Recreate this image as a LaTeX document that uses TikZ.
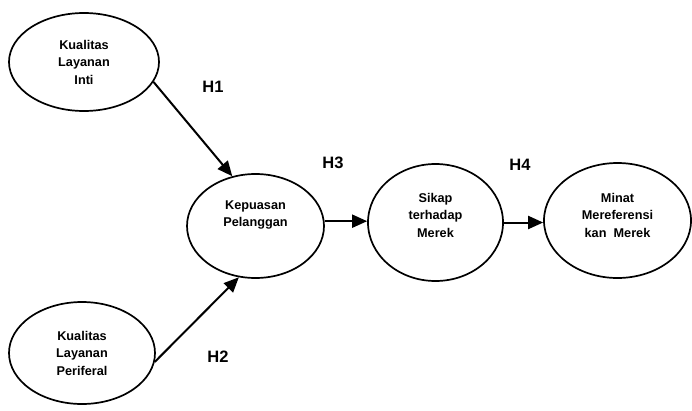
\documentclass[tikz,border=0pt]{standalone}
\usepackage{fontspec}
\setmainfont{Liberation Sans}
\usetikzlibrary{shapes.geometric,arrows.meta}
\begin{document}
\begin{tikzpicture}[x=1pt,y=-1pt,
  var/.style={draw, ellipse, line width=1.7pt, inner sep=0pt, fill=white},
  vtext/.style={align=center, font=\fontsize{12.7}{17.5}\selectfont\bfseries, inner sep=0pt},
  hlab/.style={font=\fontsize{16.5}{18}\selectfont\bfseries, inner sep=0pt},
  arr/.style={line width=2pt, -{Triangle[length=15pt,width=13pt]}, shorten >=0pt}]
\useasboundingbox (0,0) rectangle (692,410);
\fill[white] (0,0) rectangle (692,410);
% ellipses
\node[var, minimum width=150pt, minimum height=98pt] (inti) at (84,62) {};
\node[var, minimum width=146pt, minimum height=102pt] (peri) at (82,353) {};
\node[var, minimum width=137pt, minimum height=104pt] (kp) at (255.5,226) {};
\node[var, minimum width=135pt, minimum height=117pt] (sk) at (435.5,222.5) {};
\node[var, minimum width=147pt, minimum height=115pt] (mn) at (617.5,220.5) {};
% texts
\node[vtext] (intit) at (84,62) {Kualitas\\Layanan\\Inti};
\node[vtext] (perit) at (82,353) {Kualitas\\Layanan\\Periferal};
\node[vtext] (kpt) at (255.5,215) {Kepuasan\\Pelanggan};
\node[vtext] (skt) at (435.5,215) {Sikap\\terhadap\\Merek};
\node[vtext] (mnt) at (617.5,215) {Minat\\Mereferensi\\kan\ \ Merek};
% arrows
\draw[arr] (inti.-16) -- (kp.115);
\draw[arr] (peri.-7) -- (kp.252);
\draw[arr] (kp.4) -- (kp.4 -| sk.west);
\draw[arr] (sk.east) -- (sk.east -| mn.west);
% labels
\node[hlab] (h1) at (213,87) {H1};
\node[hlab] (h2) at (218,357) {H2};
\node[hlab] (h3) at (333,163) {H3};
\node[hlab] (h4) at (520,165) {H4};
\end{tikzpicture}
\end{document}
